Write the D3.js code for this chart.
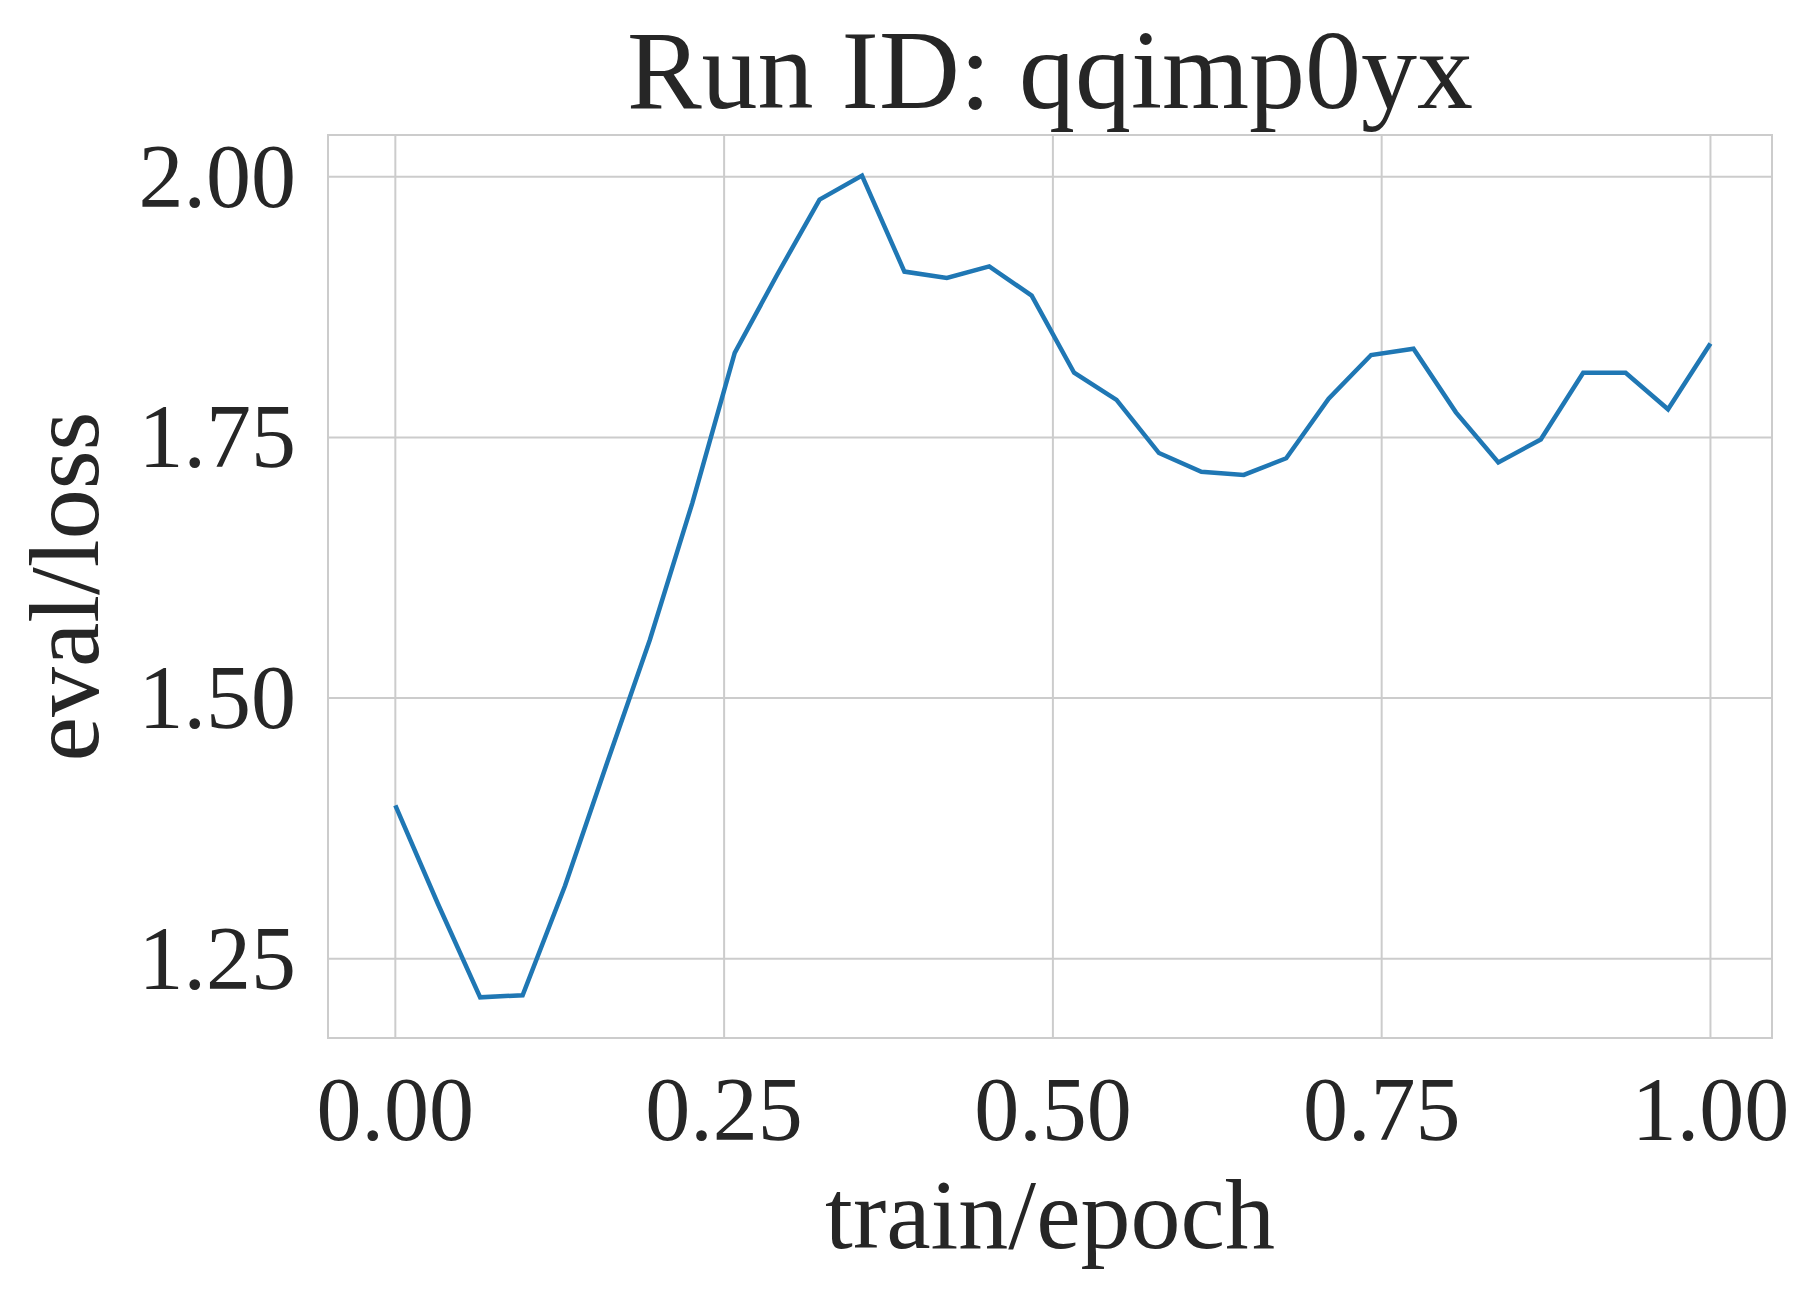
<!DOCTYPE html>
<html><head><meta charset="utf-8">
<script src="https://cdn.jsdelivr.net/npm/d3@7"></script>
<style>body{margin:0;background:#fff}</style>
</head><body><svg id="chart"></svg>
<script>
// eval loss per epoch fraction
var epochs = d3.range(32).map(function(i){ return i/31; });
var loss = [1.397,1.303,1.213,1.215,1.320,1.439,1.556,1.687,1.831,1.906,1.978,2.001,
  1.909,1.903,1.914,1.886,1.812,1.786,1.735,1.717,1.714,1.730,1.787,1.829,1.835,
  1.774,1.726,1.748,1.812,1.812,1.777,1.840];
var xTicks = [0,0.25,0.5,0.75,1.0];
var yTicks = [1.25,1.5,1.75,2.0];

var W = 1818, H = 1293, font = "'Liberation Serif', serif";
var m = {l:328, r:1772, t:135, b:1038};
var svg = d3.select("#chart").attr("width",W).attr("height",H);

var x = d3.scaleLinear().domain([-0.0512,1.0468]).range([m.l,m.r]);
var y = d3.scaleLinear().domain([1.174,2.040]).range([m.b,m.t]);

svg.append("g").selectAll("line").data(xTicks).enter().append("line")
  .attr("x1",d=>x(d)).attr("x2",d=>x(d)).attr("y1",m.t).attr("y2",m.b)
  .attr("stroke","#cccccc").attr("stroke-width",2);
svg.append("g").selectAll("line").data(yTicks).enter().append("line")
  .attr("y1",d=>y(d)).attr("y2",d=>y(d)).attr("x1",m.l).attr("x2",m.r)
  .attr("stroke","#cccccc").attr("stroke-width",2);
svg.append("rect").attr("x",m.l).attr("y",m.t).attr("width",m.r-m.l).attr("height",m.b-m.t)
  .attr("fill","none").attr("stroke","#cccccc").attr("stroke-width",2);

svg.append("path").datum(d3.zip(epochs,loss))
  .attr("d",d3.line().x(d=>x(d[0])).y(d=>y(d[1])))
  .attr("fill","none").attr("stroke","#1f77b4").attr("stroke-width",4.5);

svg.append("g").selectAll("text").data(xTicks).enter().append("text")
  .attr("x",d=>x(d)).attr("y",1140).attr("text-anchor","middle")
  .attr("font-family",font).attr("font-size",90).attr("fill","#262626")
  .text(d=>d3.format(".2f")(d));
svg.append("g").selectAll("text").data(yTicks).enter().append("text")
  .attr("x",296).attr("y",d=>y(d)+30).attr("text-anchor","end")
  .attr("font-family",font).attr("font-size",90).attr("fill","#262626")
  .text(d=>d3.format(".2f")(d));

svg.append("text").attr("x",(m.l+m.r)/2).attr("y",1248).attr("text-anchor","middle")
  .attr("font-family",font).attr("font-size",100).attr("fill","#262626").text("train/epoch");
svg.append("text").attr("transform","translate(98,"+((m.t+m.b)/2)+") rotate(-90)")
  .attr("text-anchor","middle").attr("font-family",font).attr("font-size",100)
  .attr("fill","#262626").text("eval/loss");
svg.append("text").attr("x",(m.l+m.r)/2).attr("y",108).attr("text-anchor","middle")
  .attr("font-family",font).attr("font-size",112).attr("fill","#262626").text("Run ID: qqimp0yx");
</script></body></html>
